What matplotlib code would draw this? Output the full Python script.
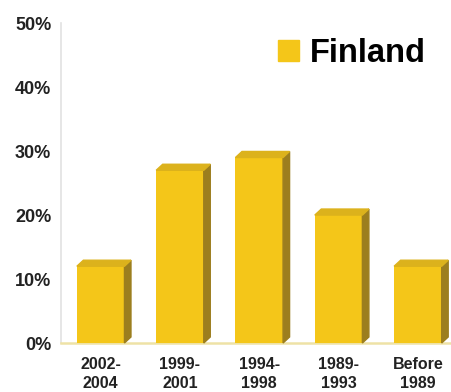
import matplotlib.pyplot as plt
from matplotlib.patches import Polygon, Patch

periods = ['2002-\n2004', '1999-\n2001', '1994-\n1998', '1989-\n1993', 'Before\n1989']
finland = [12, 27, 29, 20, 12]

front = '#F4C619'
top = '#DCB21C'
side = '#9C7E1E'

plt.rcParams['font.family'] = ['Liberation Sans', 'DejaVu Sans']
plt.rcParams['font.weight'] = 'bold'

fig = plt.figure(figsize=(4.52, 3.92), dpi=100)
ax = fig.add_axes([0.135, 0.125, 0.865, 0.816])

w = 0.6
dx, dy = 0.082, 0.94
xs = list(range(len(finland)))
ax.bar(xs, finland, width=w, color=front, zorder=3)

# fake 3d: side and top faces for each bar
for x, h in zip(xs, finland):
    r = x + w / 2
    l = x - w / 2
    ax.add_patch(Polygon([(r, 0), (r + dx, dy), (r + dx, h + dy), (r, h)],
                         closed=True, color=side, zorder=3, clip_on=False))
    ax.add_patch(Polygon([(l, h), (l + dx, h + dy), (r + dx, h + dy), (r, h)],
                         closed=True, color=top, zorder=3, clip_on=False))

ax.set_xlim(-0.5, 4.43)
ax.set_ylim(0, 50)
ax.set_yticks([0, 10, 20, 30, 40, 50])
ax.set_yticklabels(['0%', '10%', '20%', '30%', '40%', '50%'])
ax.set_xticks(xs)
ax.set_xticklabels(periods, linespacing=1.35)
ax.tick_params(axis='y', length=0, pad=7, labelsize=13, labelcolor='#222222')
ax.tick_params(axis='x', length=0, pad=10, labelsize=11.5, labelcolor='#222222')

for s in ['top', 'right']:
    ax.spines[s].set_visible(False)
ax.spines['left'].set_color('#E2E2E2')
ax.spines['left'].set_linewidth(1.2)
ax.spines['bottom'].set_color('#EEE2A6')
ax.spines['bottom'].set_linewidth(1.8)

ax.legend(handles=[Patch(color=front, label='Finland')], loc='upper left',
          bbox_to_anchor=(0.578, 0.945), bbox_transform=fig.transFigure,
          frameon=False, fontsize=23.5, handlelength=0.65, handleheight=0.65,
          handletextpad=0.35, borderpad=0)

fig.savefig('out.png', dpi=100)
